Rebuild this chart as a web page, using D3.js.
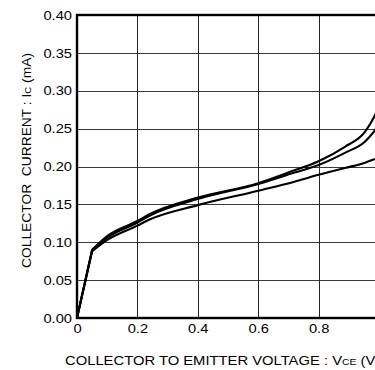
<!DOCTYPE html>
<html>
<head>
<meta charset="utf-8">
<script src="https://cdn.jsdelivr.net/npm/d3@7"></script>
<style>
  body { margin: 0; background: #fff; }
  svg { display: block; }
</style>
</head>
<body>
<div id="chart"></div>
<script>
// Collector current vs collector-emitter voltage, three curves
var vce = [0, 0.05, 0.1, 0.2, 0.24, 0.4, 0.6, 0.72, 0.8, 0.887, 0.954, 0.987, 1.0];
var icTop = [0, 0.09, 0.108, 0.128, 0.137, 0.159, 0.178, 0.195, 0.207, 0.226, 0.246, 0.268, 0.28];
var icMid = [0, 0.089, 0.106, 0.126, 0.135, 0.157, 0.177, 0.192, 0.202, 0.218, 0.233, 0.248, 0.255];
var icLow = [0, 0.088, 0.103, 0.122, 0.13, 0.149, 0.168, 0.180, 0.189, 0.198, 0.205, 0.210, 0.212];

var xTicks = [0, 0.2, 0.4, 0.6, 0.8, 1.0];
var xTickLabels = ["0", "0.2", "0.4", "0.6", "0.8", ""];
var yTicks = [0, 0.05, 0.10, 0.15, 0.20, 0.25, 0.30, 0.35, 0.40];

var margin = { top: 15, right: 0, bottom: 52, left: 77 },
    width = 302,
    height = 303;

var font = '"Liberation Sans", Arial, sans-serif';

var svg = d3.select('#chart').append('svg')
    .attr('width', 375)
    .attr('height', 370)
    .append('g')
    .attr('transform', 'translate(' + margin.left + ',' + margin.top + ')');

var x = d3.scaleLinear().domain([0, 1.0]).range([0, width]);
var y = d3.scaleLinear().domain([0, 0.40]).range([height, 0]);

// stretch text a bit wider, like the reference lettering
function widen(sel, k) {
    sel.each(function () {
        var len = this.getComputedTextLength();
        if (len > 0) {
            d3.select(this).attr('textLength', len * k).attr('lengthAdjust', 'spacingAndGlyphs');
        }
    });
}

// grid
svg.append('g')
    .selectAll('line')
    .data(yTicks)
    .enter().append('line')
    .attr('x1', 0).attr('x2', width)
    .attr('y1', function (d) { return Math.round(y(d)) + 0.5; })
    .attr('y2', function (d) { return Math.round(y(d)) + 0.5; })
    .attr('stroke', '#3a3a3a')
    .attr('stroke-width', 1);

svg.append('g')
    .selectAll('line')
    .data(xTicks)
    .enter().append('line')
    .attr('y1', 0).attr('y2', height)
    .attr('x1', function (d) { return Math.round(x(d)) + 0.5; })
    .attr('x2', function (d) { return Math.round(x(d)) + 0.5; })
    .attr('stroke', '#222')
    .attr('stroke-width', 1);

// axes
var yAxis = svg.append('g')
    .call(d3.axisLeft(y).tickValues(yTicks).tickFormat(d3.format('.2f')).tickSize(0).tickPadding(5));
yAxis.select('.domain').remove();
yAxis.selectAll('text').style('font-family', font).style('font-size', '13px').attr('fill', '#000');
widen(yAxis.selectAll('text'), 1.13);

var xAxis = svg.append('g')
    .attr('transform', 'translate(0,' + height + ')')
    .call(d3.axisBottom(x).tickValues(xTicks)
        .tickFormat(function (d, i) { return xTickLabels[i]; })
        .tickSize(0).tickPadding(6));
xAxis.select('.domain').remove();
xAxis.selectAll('text').style('font-family', font).style('font-size', '13px').attr('fill', '#000');
widen(xAxis.selectAll('text'), 1.13);

// frame
svg.append('rect')
    .attr('x', 0).attr('y', 0)
    .attr('width', width).attr('height', height)
    .attr('fill', 'none')
    .attr('stroke', '#000')
    .attr('stroke-width', 2.4);

// curves: straight rise to the knee, then smooth
var series = [icTop, icMid, icLow];
var rise = d3.line()
    .x(function (d) { return x(d[0]); })
    .y(function (d) { return y(d[1]); });
var bend = d3.line()
    .x(function (d) { return x(d[0]); })
    .y(function (d) { return y(d[1]); })
    .curve(d3.curveMonotoneX);

series.forEach(function (s) {
    var pts = vce.map(function (v, i) { return [v, s[i]]; });
    svg.append('path')
        .attr('d', rise(pts.slice(0, 2)) + bend(pts.slice(1)).replace(/^M/, 'L'))
        .attr('fill', 'none')
        .attr('stroke', '#000')
        .attr('stroke-width', 2.1)
        .attr('stroke-linejoin', 'round');
});

// axis titles
var xt = svg.append('text')
    .attr('x', -12)
    .attr('y', height + 47)
    .style('text-anchor', 'start')
    .style('font-family', font)
    .style('font-size', '13.5px')
    .attr('fill', '#000');
var xMain = xt.append('tspan').text('COLLECTOR TO EMITTER VOLTAGE : V');
xt.append('tspan').style('font-size', '9.5px').text('CE');
xt.append('tspan').text(' (V)');
var kx = 277 / xMain.node().getComputedTextLength();
widen(xt, kx);

var yt = svg.append('text')
    .attr('transform', 'rotate(-90)')
    .attr('x', -(height / 2) + 6)
    .attr('y', -margin.left + 31)
    .style('text-anchor', 'middle')
    .style('font-family', font)
    .style('font-size', '13px')
    .attr('fill', '#000')
    .attr('xml:space', 'preserve');
yt.append('tspan').text('COLLECTOR  CURRENT : I');
yt.append('tspan').style('font-size', '9px').text('C');
yt.append('tspan').text(' (mA)');
widen(yt, 215 / yt.node().getComputedTextLength());
</script>
</body>
</html>
